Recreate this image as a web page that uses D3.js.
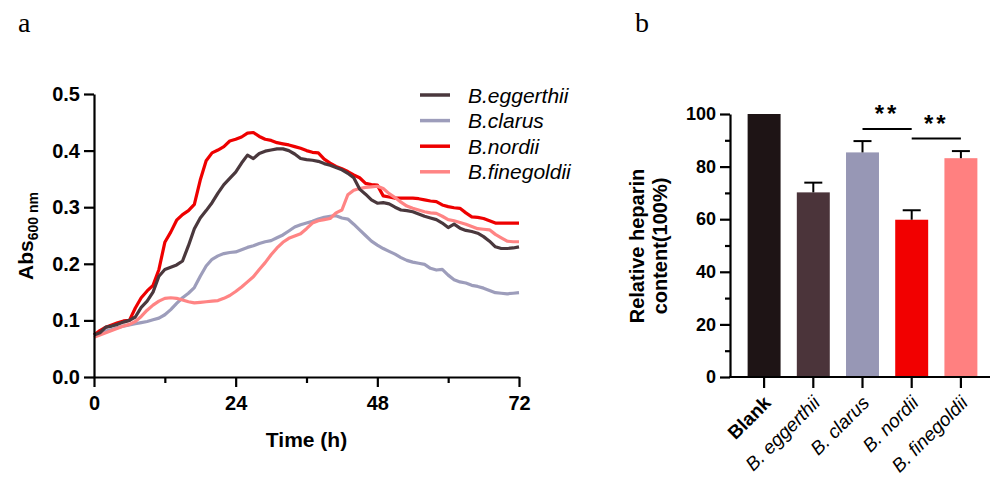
<!DOCTYPE html>
<meta charset="utf-8">
<style>
  body { margin: 0; background: #fff; }
  text { font-family: Arial, "Liberation Sans", sans-serif; }
</style>
<body>
<script src="https://d3js.org/d3.v7.min.js"></script>
<script>

// ---- panel a: growth curves (Abs600 vs time) ----
var hours = [0,1,2,3,4,5,6,7,8,9,10,11,12,13,14,15,16,17,18,19,20,21,22,23,24,
  25,26,27,28,29,30,31,32,33,34,35,36,37,38,39,40,41,42,43,44,45,46,47,48,
  49,50,51,52,53,54,55,56,57,58,59,60,61,62,63,64,65,66,67,68,69,70,71,72];

var eggerthii = [0.074,0.078,0.088,0.090,0.093,0.097,0.100,0.106,0.123,0.134,0.150,0.178,0.190,0.194,0.198,0.205,
  0.232,0.262,0.281,0.294,0.308,0.325,0.340,0.351,0.362,0.378,0.392,0.386,0.395,0.399,0.401,0.403,0.403,0.400,
  0.394,0.386,0.384,0.383,0.381,0.377,0.374,0.370,0.366,0.360,0.352,0.332,0.323,0.313,0.307,0.308,0.306,0.300,
  0.295,0.294,0.292,0.288,0.284,0.281,0.278,0.272,0.264,0.270,0.263,0.259,0.257,0.254,0.248,0.240,0.230,0.227,
  0.227,0.228,0.230];

var clarus = [0.074,0.078,0.081,0.084,0.087,0.090,0.092,0.094,0.096,0.098,0.101,0.104,0.110,0.119,0.130,0.140,
  0.148,0.158,0.178,0.196,0.208,0.214,0.218,0.220,0.221,0.225,0.229,0.232,0.236,0.239,0.241,0.246,0.251,0.258,
  0.265,0.269,0.272,0.275,0.279,0.282,0.284,0.285,0.281,0.279,0.270,0.260,0.250,0.240,0.233,0.227,0.222,0.217,
  0.211,0.206,0.203,0.201,0.199,0.192,0.189,0.190,0.180,0.172,0.168,0.166,0.162,0.160,0.157,0.153,0.149,0.148,
  0.147,0.148,0.149];

var nordii = [0.074,0.082,0.088,0.092,0.096,0.099,0.100,0.122,0.140,0.152,0.162,0.190,0.238,0.256,0.277,0.287,
  0.294,0.305,0.348,0.382,0.396,0.401,0.407,0.417,0.420,0.424,0.431,0.432,0.425,0.420,0.418,0.414,0.412,0.410,
  0.407,0.404,0.400,0.397,0.396,0.385,0.378,0.372,0.368,0.363,0.357,0.352,0.342,0.340,0.339,0.320,0.318,0.316,
  0.316,0.316,0.316,0.315,0.313,0.311,0.310,0.304,0.301,0.299,0.298,0.290,0.283,0.282,0.280,0.276,0.272,0.272,
  0.272,0.272,0.272];

var finegoldii = [0.070,0.074,0.078,0.082,0.086,0.090,0.093,0.098,0.107,0.118,0.127,0.134,0.139,0.140,0.139,0.136,
  0.133,0.131,0.132,0.133,0.134,0.135,0.139,0.144,0.151,0.159,0.168,0.177,0.190,0.202,0.216,0.228,0.238,0.245,
  0.249,0.253,0.262,0.272,0.276,0.278,0.280,0.290,0.295,0.322,0.330,0.333,0.335,0.336,0.337,0.333,0.324,0.317,
  0.309,0.302,0.298,0.295,0.292,0.290,0.289,0.284,0.278,0.276,0.273,0.270,0.266,0.262,0.261,0.260,0.252,0.246,
  0.240,0.239,0.239];

var seriesNames = ["B.eggerthii", "B.clarus", "B.nordii", "B.finegoldii"];
var seriesColors = ["#4a383d", "#9d9dbb", "#ee0000", "#ff8484"];
var seriesValues = [eggerthii, clarus, nordii, finegoldii];

var xTicksA = [0, 24, 48, 72];
var xMinorA = [12, 36, 60];
var yTicksA = [0, 0.1, 0.2, 0.3, 0.4, 0.5];

// ---- panel b: relative heparin content ----
var groups = ["Blank", "B. eggerthii", "B. clarus", "B. nordii", "B. finegoldii"];
var heparin = [100, 70.2, 85.4, 59.8, 83.2];
var heparinErr = [0, 3.7, 4.3, 3.6, 2.7];
var barColors = ["#1e1415", "#4b343a", "#9797b5", "#f20000", "#ff8080"];
var yTicksB = [0, 20, 40, 60, 80, 100];
var yMinorB = [10, 30, 50, 70, 90];
var sigPairs = [["B. clarus", "B. nordii"], ["B. nordii", "B. finegoldii"]];

var width = 995, height = 482;

var svg = d3.select("body").append("svg")
    .attr("width", width)
    .attr("height", height);

// panel letters
svg.append("text").attr("x", 18).attr("y", 32)
    .style("font-family", "'Liberation Serif', 'Times New Roman', serif")
    .style("font-size", "28px").text("a");
svg.append("text").attr("x", 635).attr("y", 32)
    .style("font-family", "'Liberation Serif', 'Times New Roman', serif")
    .style("font-size", "28px").text("b");

// ================= panel a =================
var x = d3.scaleLinear().domain([0, 72]).range([94, 519]);
var y = d3.scaleLinear().domain([0, 0.5]).range([377, 94]);

var line = d3.line()
    .x(function(d) { return x(d[0]); })
    .y(function(d) { return y(d[1]); });

var drawOrder = [1, 2, 3, 0];
drawOrder.forEach(function(i) {
  var pts = hours.map(function(h, k) { return [h, seriesValues[i][k]]; });
  svg.append("path")
      .attr("d", line(pts))
      .attr("fill", "none")
      .attr("stroke", seriesColors[i])
      .attr("stroke-width", 3.2)
      .attr("stroke-linejoin", "round");
});

var axA = svg.append("g").attr("transform", "translate(0,377)")
    .call(d3.axisBottom(x).tickValues(xTicksA).tickSize(10).tickPadding(9).tickSizeOuter(0));
svg.append("g").attr("transform", "translate(0,377)")
    .call(d3.axisBottom(x).tickValues(xMinorA).tickSize(6).tickFormat("").tickSizeOuter(0))
    .select(".domain").remove();
var ayA = svg.append("g").attr("transform", "translate(94,0)")
    .call(d3.axisLeft(y).tickValues(yTicksA).tickSize(10).tickPadding(4).tickFormat(d3.format(".1f")).tickSizeOuter(0));

svg.selectAll(".domain, .tick line").attr("stroke", "#000").attr("stroke-width", 2.2);
axA.selectAll("text").style("font-size", "20px").style("font-weight", "bold");
ayA.selectAll("text").style("font-size", "20px").style("font-weight", "bold");

svg.append("text")
    .attr("x", x(36)).attr("y", 447)
    .attr("text-anchor", "middle")
    .style("font-size", "21px").style("font-weight", "bold")
    .text("Time (h)");

var ylab = svg.append("text")
    .attr("transform", "translate(33,236) rotate(-90)")
    .attr("text-anchor", "middle")
    .style("font-weight", "bold");
ylab.append("tspan").style("font-size", "21px").text("Abs");
ylab.append("tspan").style("font-size", "14px").attr("dy", 5).text("600 nm");

// legend
var leg = svg.append("g");
seriesNames.forEach(function(name, i) {
  var ly = 95 + i * 25.6;
  leg.append("line")
      .attr("x1", 420).attr("x2", 450).attr("y1", ly).attr("y2", ly)
      .attr("stroke", seriesColors[i]).attr("stroke-width", 3.5);
  leg.append("text")
      .attr("x", 468).attr("y", ly + 7.5)
      .style("font-size", "21px").style("font-style", "italic")
      .text(name);
});

// ================= panel b =================
var xb = d3.scaleBand().domain(groups).range([739.5, 985.5])
    .paddingInner(0.33).paddingOuter(0.165);
var yb = d3.scaleLinear().domain([0, 100]).range([377, 114]);

svg.append("g").selectAll("rect")
    .data(groups)
    .enter().append("rect")
    .attr("x", function(d) { return xb(d); })
    .attr("width", xb.bandwidth())
    .attr("y", function(d, i) { return yb(heparin[i]); })
    .attr("height", function(d, i) { return yb(0) - yb(heparin[i]); })
    .attr("fill", function(d, i) { return barColors[i]; });

// error bars (upper only)
groups.forEach(function(g, i) {
  if (!heparinErr[i]) return;
  var cx = xb(g) + xb.bandwidth() / 2;
  svg.append("line")
      .attr("x1", cx).attr("x2", cx)
      .attr("y1", yb(heparin[i])).attr("y2", yb(heparin[i] + heparinErr[i]))
      .attr("stroke", "#000").attr("stroke-width", 2);
  svg.append("line")
      .attr("x1", cx - 9).attr("x2", cx + 9)
      .attr("y1", yb(heparin[i] + heparinErr[i])).attr("y2", yb(heparin[i] + heparinErr[i]))
      .attr("stroke", "#000").attr("stroke-width", 2);
});

var ayB = svg.append("g").attr("transform", "translate(730,0)")
    .call(d3.axisLeft(yb).tickValues(yTicksB).tickSize(10).tickPadding(4).tickSizeOuter(0));
svg.append("g").attr("transform", "translate(730,0)")
    .call(d3.axisLeft(yb).tickValues(yMinorB).tickSize(5).tickFormat("").tickSizeOuter(0))
    .select(".domain").remove();
ayB.selectAll("text").style("font-size", "18px").style("font-weight", "bold");

// x axis line + ticks
svg.append("line").attr("x1", 729).attr("x2", 990).attr("y1", 377).attr("y2", 377)
    .attr("stroke", "#000").attr("stroke-width", 2.2);
groups.forEach(function(g, i) {
  var cx = xb(g) + xb.bandwidth() / 2;
  svg.append("line").attr("x1", cx).attr("x2", cx).attr("y1", 377).attr("y2", 388)
      .attr("stroke", "#000").attr("stroke-width", 2.2);
  svg.append("text")
      .attr("transform", "translate(" + (cx + 8) + ",404) rotate(-45)")
      .attr("text-anchor", "end")
      .style("font-size", "19px")
      .style("font-weight", i === 0 ? "bold" : "normal")
      .style("font-style", i === 0 ? "normal" : "italic")
      .text(g);
});
svg.selectAll("g .domain, g .tick line").attr("stroke", "#000").attr("stroke-width", 2.2);

// y label b
var ylb = svg.append("text")
    .attr("transform", "translate(644,246) rotate(-90)")
    .attr("text-anchor", "middle")
    .style("font-size", "20px").style("font-weight", "bold");
ylb.append("tspan").attr("x", 0).attr("dy", 0).text("Relative heparin");
ylb.append("tspan").attr("x", 0).attr("dy", 23).text("content(100%)");

// significance
var sigY = [129, 138.5];
var starY = [126, 135.5];
sigPairs.forEach(function(p, i) {
  var x1 = xb(p[0]) + xb.bandwidth() / 2, x2 = xb(p[1]) + xb.bandwidth() / 2;
  svg.append("line").attr("x1", x1).attr("x2", x2).attr("y1", sigY[i]).attr("y2", sigY[i])
      .attr("stroke", "#000").attr("stroke-width", 2);
  svg.append("text").attr("x", (x1 + x2) / 2).attr("y", starY[i] - 4)
      .attr("text-anchor", "middle")
      .style("font-size", "24px").style("font-weight", "bold")
      .style("letter-spacing", "3px")
      .text("**");
});

</script>
